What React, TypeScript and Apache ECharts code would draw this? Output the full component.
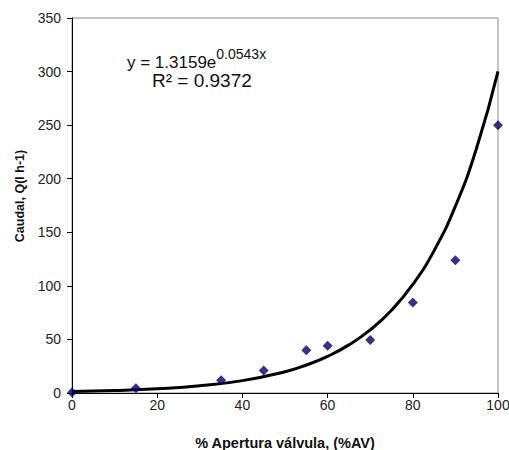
import React, { useEffect, useRef } from "react";
import * as echarts from "echarts";

const apertura = [0, 15, 35, 45, 55, 60, 70, 80, 90, 100];
const caudal = [0.5, 4.5, 12, 21, 40, 44, 49.5, 84.5, 124, 250];

const trendX = [0, 10, 20, 30, 40, 50, 55, 60, 65, 70, 75, 80, 85, 90, 95, 100];
const trendY = [1.32, 2.26, 3.9, 6.71, 11.55, 19.87, 26.1, 34.2, 44.9, 58.9, 77.2, 101.3, 132.9, 174.4, 228.9, 300.2];

const xTitle = "% Apertura válvula, (%AV)";
const yTitle = "Caudal, Q(l h-1)";

export default function App() {
  const ref = useRef<HTMLDivElement>(null);
  useEffect(() => {
    if (!ref.current) return;
    const chart = echarts.init(ref.current, undefined, { renderer: "svg" });
    const font = "'Liberation Sans', Arial, sans-serif";
    chart.setOption({
      animation: false,
      backgroundColor: "#ffffff",
      textStyle: { fontFamily: font },
      grid: {
        left: 72,
        right: 11,
        top: 18,
        bottom: 57,
        show: true,
        borderColor: "#8c8c8c",
        borderWidth: 1,
        outerBoundsMode: "none",
        containLabel: false,
      },
      xAxis: {
        type: "value",
        min: 0,
        max: 100,
        interval: 20,
        name: xTitle,
        nameLocation: "middle",
        nameGap: 42,
        nameTextStyle: { fontFamily: font, fontWeight: "bold", fontSize: 14.5, color: "#111" },
        axisLine: { lineStyle: { color: "#000", width: 1 } },
        axisTick: { show: true, length: 5, lineStyle: { color: "#000" } },
        axisLabel: { color: "#222", fontSize: 14, fontFamily: font, margin: 5 },
        splitLine: { show: false },
      },
      yAxis: {
        type: "value",
        min: 0,
        max: 350,
        interval: 50,
        axisLine: { show: true, lineStyle: { color: "#000", width: 1 } },
        axisTick: { show: true, length: 5, lineStyle: { color: "#000" } },
        axisLabel: { color: "#222", fontSize: 14, fontFamily: font, margin: 11 },
        splitLine: { show: false },
      },
      graphic: [
        {
          type: "text",
          x: 20,
          y: 196,
          rotation: Math.PI / 2,
          style: {
            text: yTitle,
            fontSize: 12.5,
            fontWeight: "bold",
            fontFamily: font,
            fill: "#111",
            align: "center",
            verticalAlign: "middle",
          },
        },
        {
          type: "text",
          left: 127,
          top: 47,
          style: {
            text: "{a|y = 1.3159e}{b|0.0543x}",
            rich: {
              a: { fontSize: 17, fontFamily: font, fill: "#111", verticalAlign: "bottom" },
              b: { fontSize: 14, fontFamily: font, fill: "#111", verticalAlign: "top", padding: [0, 0, 10, 0] },
            },
          },
        },
        {
          type: "text",
          left: 152,
          top: 71,
          style: { text: "R² = 0.9372", fontSize: 19, fontFamily: font, fill: "#111" },
        },
      ],
      series: [
        {
          type: "line",
          data: trendX.map((x, i) => [x, trendY[i]]),
          smooth: true,
          showSymbol: false,
          lineStyle: { color: "#000", width: 3 },
          z: 2,
        },
        {
          type: "scatter",
          data: apertura.map((x, i) => [x, caudal[i]]),
          symbol: "diamond",
          symbolSize: 10,
          itemStyle: { color: "#00006e" },
          z: 3,
        },
      ],
    });
    return () => chart.dispose();
  }, []);
  return <div ref={ref} style={{ width: 509, height: 450, position: "absolute", left: 0, top: 0 }} />;
}
